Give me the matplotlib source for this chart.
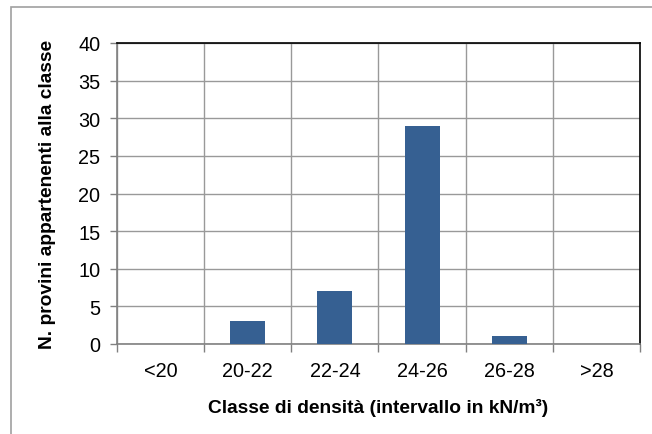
import matplotlib
matplotlib.use("Agg")
import matplotlib.pyplot as plt
from matplotlib.patches import Rectangle

categories = ["<20", "20-22", "22-24", "24-26", "26-28", ">28"]
counts = [0, 3, 7, 29, 1, 0]
yticks = [0, 5, 10, 15, 20, 25, 30, 35, 40]

plt.rcParams['font.family'] = ['Liberation Sans', 'DejaVu Sans']

W, H = 652, 435
fig = plt.figure(figsize=(W/100, H/100), dpi=100)
# outer chart frame
fig.patches.append(Rectangle((11/W, -0.05), 1.0, (H-8)/H + 0.05, transform=fig.transFigure,
                             fill=False, edgecolor='#a0a0a0', linewidth=1.2))

left, right, top, bottom = 117, 640, 44, 345
ax = fig.add_axes([left/W, 1-bottom/H, (right-left)/W, (bottom-top)/H])

x = list(range(len(categories)))
ax.bar(x, counts, width=0.4, color='#366092', zorder=3)
ax.set_xlim(-0.5, len(categories)-0.5)
ax.set_ylim(0, 40)
ax.set_yticks(yticks)
ax.set_xticks(x)
ax.set_xticklabels(categories)
ax.tick_params(axis='x', length=0, pad=12, labelsize=14.3)
ax.tick_params(axis='y', length=5, color='#808080', width=1, pad=7, labelsize=14.3)
bounds = [i - 0.5 for i in range(len(categories)+1)]
ax.set_xticks(bounds, minor=True)
ax.tick_params(axis='x', which='minor', length=6, color='#808080', width=1)
ax.grid(True, axis='x', which='minor', color='#999999', linewidth=1, zorder=0)
ax.grid(True, axis='y', which='major', color='#999999', linewidth=1, zorder=0)
ax.grid(False, axis='x', which='major')

ax.spines['left'].set_color('#808080')
ax.spines['bottom'].set_color('#808080')
ax.spines['top'].set_color('black')
ax.spines['right'].set_color('black')
for s in ax.spines.values():
    s.set_linewidth(1.2)

ax.set_xlabel("Classe di densità (intervallo in kN/m³)", fontsize=13.8, fontweight='bold', labelpad=13)
ax.set_ylabel("N. provini appartenenti alla classe", fontsize=13.8, fontweight='bold', labelpad=16)

fig.savefig("out.png", dpi=100)
